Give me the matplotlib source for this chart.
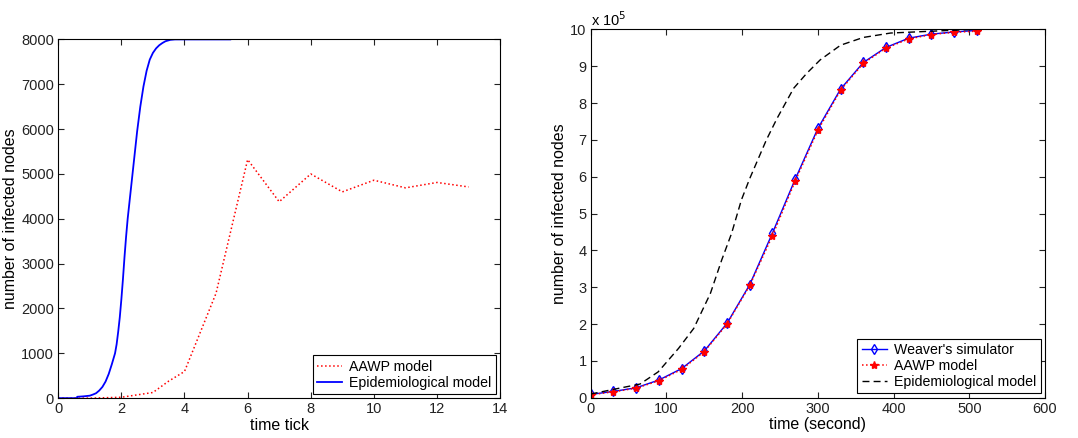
import matplotlib.pyplot as plt

plt.rcParams['font.family'] = ['Liberation Sans', 'DejaVu Sans']
plt.rcParams['font.size'] = 10.5

# left panel: time ticks
epi_t = [0, 0.6, 0.6, 0.8, 1.0, 1.1, 1.2, 1.3, 1.4, 1.5, 1.6, 1.7, 1.8, 1.85, 1.9, 1.95,
         2.0, 2.05, 2.1, 2.15, 2.2, 2.3, 2.4, 2.5, 2.6, 2.7, 2.8, 2.9, 3.0, 3.1, 3.2,
         3.3, 3.4, 3.55, 3.7, 5.45]
epi_v = [0, 0, 30, 40, 55, 80, 110, 170, 250, 370, 540, 760, 1000, 1200, 1480, 1800,
         2200, 2650, 3150, 3600, 4000, 4650, 5300, 5950, 6500, 6950, 7300, 7550, 7700,
         7800, 7870, 7920, 7960, 7990, 8000, 8000]
aawp_t = [0, 1, 2, 3, 3.5, 4, 5, 6, 7, 8, 9, 10, 11, 12, 13]
aawp_v = [0, 0, 20, 126, 380, 594, 2340, 5320, 4380, 5000, 4600, 4860, 4690, 4810, 4710]

# right panel: seconds, values in units of 1e5
sim_t = [0, 30, 60, 90, 120, 150, 180, 210, 240, 270, 300, 330, 360, 390, 420, 450, 480, 510]
weaver = [0.09, 0.17, 0.27, 0.48, 0.79, 1.27, 2.02, 3.07, 4.47, 5.93, 7.31, 8.38, 9.10, 9.51, 9.76, 9.87, 9.93, 9.97]
aawp2 = [0.08, 0.16, 0.26, 0.46, 0.77, 1.25, 2.00, 3.05, 4.40, 5.88, 7.26, 8.35, 9.08, 9.49, 9.74, 9.86, 9.92, 9.95]
epi2_t = [0, 31, 65, 89, 116, 136, 158, 173, 186, 199, 210, 232, 246, 268, 285,
          303, 330, 360, 396, 462, 510]
epi2_v = [0.1, 0.23, 0.37, 0.7, 1.34, 1.88, 2.83, 3.74, 4.46, 5.37, 5.95, 7.0, 7.58, 8.4, 8.8,
          9.17, 9.57, 9.78, 9.9, 9.96, 10.0]

fig = plt.figure(figsize=(10.78, 4.38), dpi=100)
ax1 = fig.add_axes([0.054, 0.091, 0.41, 0.819])
ax2 = fig.add_axes([0.548, 0.092, 0.4214, 0.841])

ax1.plot(aawp_t, aawp_v, ':', color='red', lw=1.1, label='AAWP model')
ax1.plot(epi_t, epi_v, '-', color='blue', lw=1.3, label='Epidemiological model')
ax1.set_xlim(0, 14)
ax1.set_ylim(0, 8000)
ax1.set_xticks(range(0, 15, 2))
ax1.set_yticks(range(0, 8001, 1000))
ax1.set_xlabel('time tick', fontsize=11.5, labelpad=1)
ax1.set_ylabel('number of infected nodes', fontsize=11.5, labelpad=2)

ax2.plot(sim_t, weaver, '-', color='blue', lw=1, marker='d', mfc='none', ms=5,
         mew=1, label="Weaver's simulator")
ax2.plot(sim_t, aawp2, ':', color='red', lw=1.1, marker='*', ms=6,
         label='AAWP model')
ax2.plot(epi2_t, epi2_v, '--', color='black', lw=1, dashes=(5, 3), label='Epidemiological model')
ax2.set_xlim(0, 600)
ax2.set_ylim(0, 10)
ax2.set_xticks(range(0, 601, 100))
ax2.set_yticks(range(0, 11))
ax2.set_xlabel('time (second)', fontsize=11.5, labelpad=1)
ax2.set_ylabel('number of infected nodes', fontsize=11.5, labelpad=2)
ax2.text(0.0, 1.0, 'x 10$^5$', transform=ax2.transAxes, ha='left', va='bottom',
         fontsize=10.5)

for ax in (ax1, ax2):
    ax.tick_params(direction='in', top=True, right=True, length=4, width=0.8,
                   labelsize=10.5, colors='#222222', pad=3)
    for s in ax.spines.values():
        s.set_linewidth(0.8)
    leg = ax.legend(loc='lower right', fancybox=False, edgecolor='black',
                    framealpha=1, borderaxespad=0.3, handlelength=1.8,
                    handletextpad=0.5, borderpad=0.3, labelspacing=0.15,
                    fontsize=10.2)
    leg.get_frame().set_linewidth(0.8)

fig.savefig('out.png', dpi=100)
